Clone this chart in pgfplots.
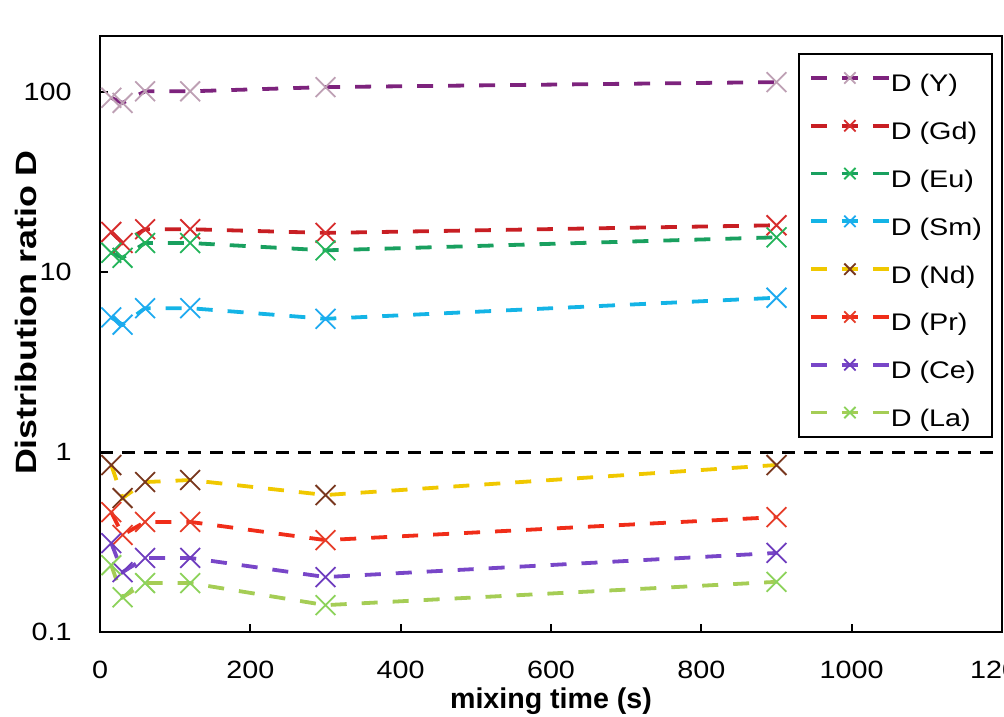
\documentclass[border=0pt]{standalone}
\usepackage{pgfplots}
\pgfplotsset{compat=1.18}
\usepackage{fontspec}
\setmainfont{Liberation Sans}
\definecolor{Yline}{RGB}{125,35,125}
\definecolor{Ymark}{RGB}{190,160,180}
\definecolor{Gdline}{RGB}{200,30,35}
\definecolor{Gdmark}{RGB}{215,45,45}
\definecolor{Euline}{RGB}{25,160,95}
\definecolor{Eumark}{RGB}{35,180,90}
\definecolor{Smline}{RGB}{20,180,230}
\definecolor{Smmark}{RGB}{30,170,240}
\definecolor{Ndline}{RGB}{240,200,0}
\definecolor{Ndmark}{RGB}{120,55,30}
\definecolor{Prline}{RGB}{240,45,25}
\definecolor{Prmark}{RGB}{230,60,40}
\definecolor{Celine}{RGB}{120,70,200}
\definecolor{Cemark}{RGB}{110,60,190}
\definecolor{Laline}{RGB}{165,205,85}
\definecolor{Lamark}{RGB}{140,210,90}
\newcommand{\tl}[1]{\scalebox{1.15}[1]{#1}}
\newcommand{\lgt}[1]{\scalebox{1.2}[1]{#1}}
\pgfplotsset{ser/.style 2 args={color=#1, line width=1.9pt, dash pattern=on 8pt off 7.5pt, mark=x, mark size=7pt, mark options={solid, line width=0.9pt, draw=#2}}}
\begin{document}
\begin{tikzpicture}
\begin{axis}[
  at={(0,0)}, anchor=south west,
  scale only axis, width=451pt, height=298pt,
  xmin=0, xmax=1200, ymode=log, ymin=0.1, ymax=205,
  xtick={0,200,400,600,800,1000,1200},
  xticklabels={\tl{0},\tl{200},\tl{400},\tl{600},\tl{800},\tl{1000},\tl{1200}},
  ytick={0.1,1,10,100},
  yticklabels={\tl{0.1},\tl{1},\tl{10},\tl{100}},
  minor y tick style={draw=none},
  tick align=inside, tick pos=left,
  major tick length=4pt,
  tick style={black, line width=1pt},
  axis line style={black, line width=1.3pt},
  tick label style={font=\fontsize{12.5}{15}\selectfont, inner sep=0pt},
  xticklabel style={anchor=north, yshift=-14.5pt},
  yticklabel style={anchor=east, xshift=-14pt},
  every axis x label/.style={at={([yshift=-38pt]axis description cs:0.5,0)}, anchor=base, inner sep=0pt},
  every axis y label/.style={at={([xshift=-37pt]axis description cs:0,0.536)}, rotate=90, anchor=center, inner sep=0pt},
  xlabel={\fontsize{14.3}{17}\selectfont\bfseries mixing time (s)},
  ylabel={\scalebox{1.22}[1]{\fontsize{14.7}{17}\selectfont\bfseries Distribution ratio D}},
  legend style={at={(0.990,0.9715)}, anchor=north east, draw=black, line width=1pt, fill=white,
    font=\fontsize{12}{14}\selectfont, inner xsep=5pt, inner ysep=5pt, row sep=9.9pt,
    nodes={inner sep=0pt, text height=14pt, text depth=0pt}, cells={anchor=west},
    /tikz/every even column/.append style={column sep=3pt}},
  legend image code/.code={\draw[#1, mark size=4pt, mark repeat=2, mark phase=2] plot coordinates {(0pt,0pt) (19.5pt,0pt) (39pt,0pt)};},
]
\addplot[ser={Yline}{Ymark}] coordinates {(15,93) (30,87) (60,101) (120,101) (300,106.6) (900,113.6)};
\addlegendentry{\lgt{D (Y)}}
\addplot[ser={Gdline}{Gdmark}] coordinates {(15,16.7) (30,14.5) (60,17.3) (120,17.3) (300,16.5) (900,18.2)};
\addlegendentry{\lgt{D (Gd)}}
\addplot[ser={Euline}{Eumark}] coordinates {(15,12.8) (30,12.0) (60,14.5) (120,14.5) (300,13.2) (900,15.6)};
\addlegendentry{\lgt{D (Eu)}}
\addplot[ser={Smline}{Smmark}] coordinates {(15,5.6) (30,5.1) (60,6.3) (120,6.3) (300,5.5) (900,7.2)};
\addlegendentry{\lgt{D (Sm)}}
\addplot[ser={Ndline}{Ndmark}] coordinates {(15,0.847) (30,0.555) (60,0.681) (120,0.699) (300,0.577) (900,0.847)};
\addlegendentry{\lgt{D (Nd)}}
\addplot[ser={Prline}{Prmark}] coordinates {(15,0.464) (30,0.346) (60,0.409) (120,0.409) (300,0.324) (900,0.435)};
\addlegendentry{\lgt{D (Pr)}}
\addplot[ser={Celine}{Cemark}] coordinates {(15,0.312) (30,0.215) (60,0.258) (120,0.258) (300,0.202) (900,0.275)};
\addlegendentry{\lgt{D (Ce)}}
\addplot[ser={Laline}{Lamark}] coordinates {(15,0.235) (30,0.156) (60,0.187) (120,0.187) (300,0.141) (900,0.19)};
\addlegendentry{\lgt{D (La)}}
\addplot[black, line width=1.5pt, dash pattern=on 6.5pt off 4.5pt, forget plot] coordinates {(0,1) (1200,1)};
\end{axis}
\pgfresetboundingbox
\useasboundingbox (-50pt,-42pt) rectangle (452pt,316pt);
\end{tikzpicture}
\end{document}
